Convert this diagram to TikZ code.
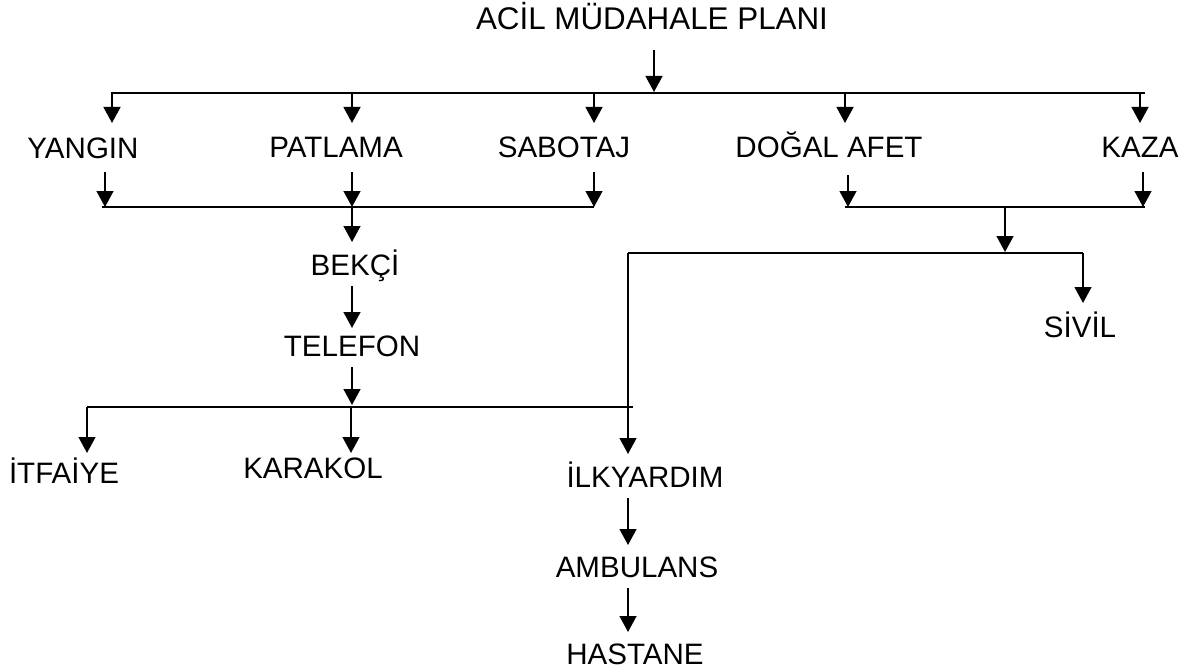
\documentclass[tikz,border=0pt]{standalone}
\usepackage{fontspec}
\setmainfont{Liberation Sans}
\usepackage{tikz}
\usetikzlibrary{arrows.meta}
\tikzset{every node/.style={inner sep=0pt,text height=15pt,text depth=0pt,font=\fontsize{21}{25}\selectfont}}
\tikzset{arr/.style={-{Triangle[length=0.4cm,width=0.42cm]},line width=1.4pt}}
\tikzset{bus/.style={line width=1.4pt}}

\begin{document}
\begin{tikzpicture}[x=0.025cm,y=-0.025cm]
    \useasboundingbox (0,0) rectangle (1188,671);

    % labels
    \node[text height=16pt] (plan) at (652,18) {\fontsize{22.3}{26}\selectfont ACİL MÜDAHALE PLANI};
    \node (yangin) at (83,148) {YANGIN};
    \node (patlama) at (336,147) {PATLAMA};
    \node (sabotaj) at (564,147) {SABOTAJ};
    \node (dogal) at (829,147) {DOĞAL AFET};
    \node (kaza) at (1140,147) {KAZA};
    \node (bekci) at (355,265) {BEKÇİ};
    \node (telefon) at (352,346) {TELEFON};
    \node (sivil) at (1080,327) {SİVİL};
    \node (itfaiye) at (64,473) {İTFAİYE};
    \node (karakol) at (313,468) {KARAKOL};
    \node (ilkyardim) at (645,477) {İLKYARDIM};
    \node (ambulans) at (637,567) {AMBULANS};
    \node (hastane) at (635,654) {HASTANE};

    % junction points
    \coordinate (P0) at (654,50);
    \coordinate (P1) at (654,92);
    \coordinate (T0) at (111,93);
    \coordinate (T1) at (1145,93);
    \coordinate (Y1) at (112,93);
    \coordinate (Y2) at (112,123);
    \coordinate (A1) at (352,93);
    \coordinate (A2) at (352,123);
    \coordinate (S1) at (594,93);
    \coordinate (S2) at (594,123);
    \coordinate (D1) at (845,93);
    \coordinate (D2) at (845,123);
    \coordinate (K1) at (1140,93);
    \coordinate (K2) at (1140,123);
    \coordinate (Y3) at (105,172);
    \coordinate (Y4) at (105,207);
    \coordinate (A3) at (352,172);
    \coordinate (A4) at (352,207);
    \coordinate (S3) at (594,172);
    \coordinate (S4) at (594,207);
    \coordinate (D3) at (848,175);
    \coordinate (D4) at (848,207);
    \coordinate (K3) at (1143,172);
    \coordinate (K4) at (1143,207);
    \coordinate (L0) at (102,207);
    \coordinate (R0) at (845,207);
    \coordinate (R1) at (1145,207);
    \coordinate (B1) at (352,242);
    \coordinate (B2) at (352,286);
    \coordinate (B3) at (352,328);
    \coordinate (B4) at (352,367);
    \coordinate (B5) at (352,405);
    \coordinate (E0) at (87,407);
    \coordinate (E1) at (633,407);
    \coordinate (E2) at (87,453);
    \coordinate (E3) at (351,407);
    \coordinate (E4) at (351,453);
    \coordinate (M0) at (1005,207);
    \coordinate (M1) at (1005,252);
    \coordinate (N0) at (628,253);
    \coordinate (N1) at (1083,253);
    \coordinate (N2) at (1083,303);
    \coordinate (N3) at (628,454);
    \coordinate (H1) at (628,498);
    \coordinate (H2) at (628,545);
    \coordinate (H3) at (628,588);
    \coordinate (H4) at (628,632);

    % top level
    \draw[arr] (P0) -- (P1);
    \draw[bus] (T0) -- (T1);
    \draw[arr] (Y1) -- (Y2);
    \draw[arr] (A1) -- (A2);
    \draw[arr] (S1) -- (S2);
    \draw[arr] (D1) -- (D2);
    \draw[arr] (K1) -- (K2);

    % left branch
    \draw[arr] (Y3) -- (Y4);
    \draw[arr] (A3) -- (A4);
    \draw[arr] (S3) -- (S4);
    \draw[bus] (L0) -- (S4);
    \draw[arr] (A4) -- (B1);
    \draw[arr] (B2) -- (B3);
    \draw[arr] (B4) -- (B5);
    \draw[bus] (E0) -- (E1);
    \draw[arr] (E0) -- (E2);
    \draw[arr] (E3) -- (E4);

    % right branch
    \draw[arr] (D3) -- (D4);
    \draw[arr] (K3) -- (K4);
    \draw[bus] (R0) -- (R1);
    \draw[arr] (M0) -- (M1);
    \draw[bus] (N0) -- (N1);
    \draw[arr] (N1) -- (N2);
    \draw[arr] (N0) -- (N3);
    \draw[arr] (H1) -- (H2);
    \draw[arr] (H3) -- (H4);
\end{tikzpicture}
\end{document}
